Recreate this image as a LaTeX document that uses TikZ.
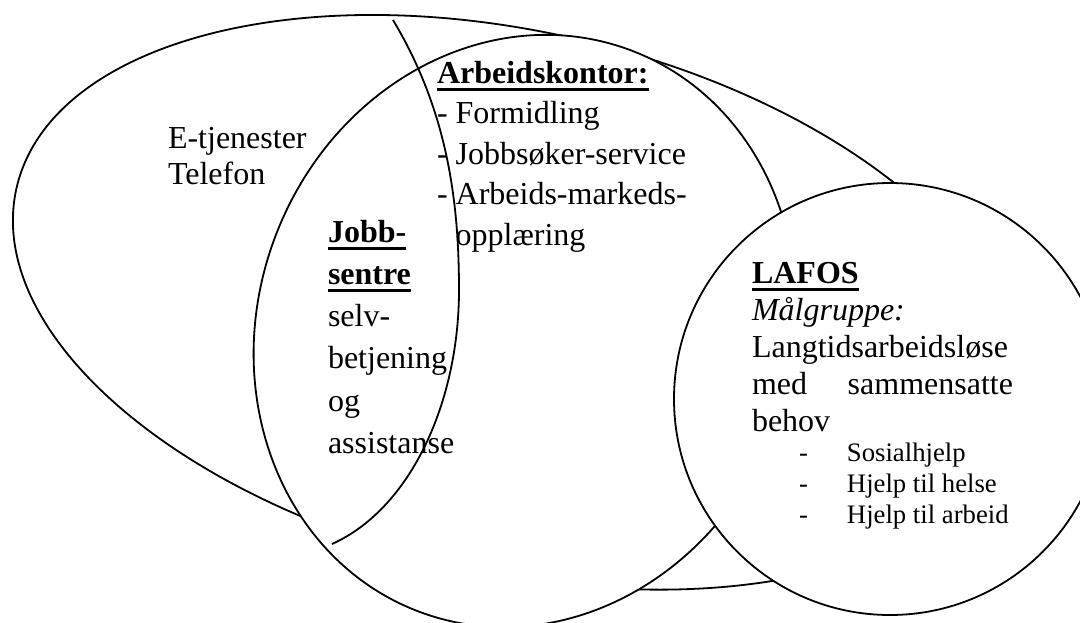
\documentclass[tikz,border=0pt]{standalone}
\usepackage{fontspec}
\setmainfont{Liberation Serif}
\newcommand\mainfnt{\fontsize{32}{36.8}\selectfont}
\newcommand\smallfnt{\fontsize{26.7}{31}\selectfont}
\newcommand\ulb[1]{\sbox0{#1}\rlap{\rule[-8pt]{\wd0}{3.5pt}}\usebox0}
\begin{document}
\begin{tikzpicture}[x=1pt,y=-1pt,
  blob/.style={draw=black, fill=white, line width=1.8pt},
  arcline/.style={draw=black, line width=1.8pt},
  txt/.style={anchor=base west, inner sep=0pt, outer sep=0pt, font=\mainfnt}]
\useasboundingbox (0,0) rectangle (1080,622);
\clip (0,0) rectangle (1080,622);
\fill[white] (0,0) rectangle (1080,622);
% big outer oval
\draw[blob, rotate around={-12.93:(515.7,302.3)}] (515.7,302.3) ellipse[x radius=512.1, y radius=270.3];
% middle oval (Arbeidskontor)
\draw[blob, rotate around={-20.7:(525,331)}] (525,331) ellipse[x radius=267, y radius=300];
% LAFOS circle
\draw[blob] (890,399) circle[radius=216];
% Jobbsentre arc
\coordinate (jtop) at (393,20);
\coordinate (jmid) at (459,290);
\coordinate (jbot) at (332,544);
\draw[arcline] (jtop) .. controls (447,110) and (459,200) .. (jmid)
  .. controls (459,400) and (412,508) .. (jbot);
% texts
\node[txt] (etj) at (168,148) {\vtop{\baselineskip=36pt
  \hbox{E-tjenester}\hbox{Telefon}}};
\node[txt] (ak) at (437,83) {\vtop{\baselineskip=40.5pt
  \hbox{\ulb{\bfseries Arbeidskontor:}}
  \hbox{- Formidling}
  \hbox{- Jobbsøker-service}
  \hbox{- Arbeids-markeds-}
  \hbox{\hphantom{-} opplæring}}};
\node[txt] (js) at (328,242) {\vtop{\baselineskip=42.3pt
  \hbox{\ulb{\bfseries Jobb-}}
  \hbox{\ulb{\bfseries sentre}}
  \hbox{selv-}
  \hbox{betjening}
  \hbox{og}
  \hbox{assistanse}}};
\node[txt] (lf) at (752,283) {\vtop{\baselineskip=37pt
  \hbox{\ulb{\bfseries LAFOS}}
  \hbox{\itshape Målgruppe:}
  \hbox{Langtidsarbeidsløse}
  \hbox to 261pt{med\hfill sammensatte}
  \hbox{behov}
  \smallfnt\baselineskip=30.7pt
  \hbox{\hbox to 95pt{\hskip 47pt -\hfil}Sosialhjelp}
  \hbox{\hbox to 95pt{\hskip 47pt -\hfil}Hjelp til helse}
  \hbox{\hbox to 95pt{\hskip 47pt -\hfil}Hjelp til arbeid}}};
\end{tikzpicture}
\end{document}
